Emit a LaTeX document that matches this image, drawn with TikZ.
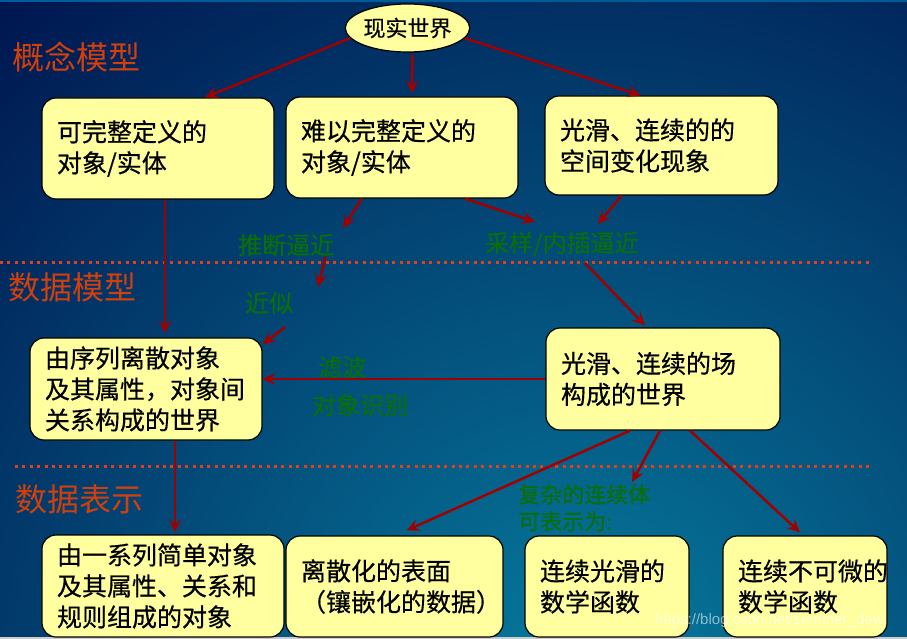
\documentclass[tikz,border=0pt]{standalone}
\usepackage{fontspec}
\newfontfamily\cjk{Noto Sans CJK SC}
\newfontfamily\cjkb[FakeBold=0.5]{Noto Sans CJK SC}
\newfontfamily\wmfont{Liberation Sans}
\usetikzlibrary{arrows.meta,shapes.geometric}
\definecolor{navy}{HTML}{001650}
\definecolor{tealbg}{HTML}{067C9E}
\definecolor{boxfill}{HTML}{FFFFA0}
\definecolor{arrowred}{HTML}{A00000}
\definecolor{secred}{HTML}{D0400C}
\definecolor{lblgreen}{HTML}{0A6E0A}
\definecolor{dotred}{HTML}{E0401A}
\begin{document}
\begin{tikzpicture}[x=1pt,y=-1pt,
  box/.style={draw=black, line width=1.2pt, fill=boxfill, rounded corners=14pt,
    align=left, inner xsep=15pt, inner ysep=0pt,
    font=\cjkb\fontsize{25}{31}\selectfont, anchor=center},
  sec/.style={text=secred, font=\cjk\fontsize{32}{36}\selectfont, inner sep=0pt, anchor=west},
  glbl/.style={text=lblgreen, font=\cjkb\fontsize{24}{28}\selectfont, inner sep=0pt, anchor=west},
  conn/.style={draw=arrowred, line width=2.5pt, -{Stealth[length=13pt,width=12pt,inset=5pt]}},
  dotline/.style={draw=dotred, line width=3pt, dash pattern=on 3pt off 4.4pt}
]
\useasboundingbox (0,0) rectangle (907,639);
% background
\begin{scope}
  \clip (0,0) rectangle (907,639);
  \fill[navy] (0,0) rectangle (907,639);
  \shade[inner color=tealbg, outer color=navy] (590,680) circle (900);
  \fill[color=blue!40!cyan!60!black] (0,0) rectangle (907,2.5);
  \fill[gray!40] (0,636.5) rectangle (907,639);
\end{scope}

% dotted separators
\draw[dotline] (0,262) -- (870,262);
\draw[dotline] (15,466) -- (870,466);

% section labels
\node[sec] (s1) at (12,57) {概念模型};
\node[sec] (s2) at (8,287) {数据模型};
\node[sec] (s3) at (15,499) {数据表示};

% nodes
\node[draw=black, line width=1.2pt, fill=boxfill, ellipse, minimum width=119pt, minimum height=48pt,
  inner sep=0pt, font=\cjkb\fontsize{22}{26}\selectfont] (world) at (407.5,28) {现实世界};

\node[box, text width=202pt, minimum height=101pt] (A) at (158,148.5) {可完整定义的\\对象/实体};
\node[box, text width=202pt, minimum height=101pt] (B) at (402,147.5) {难以完整定义的\\对象/实体};
\node[box, text width=203pt, minimum height=99pt] (C) at (661.5,145.5) {光滑、连续的的\\空间变化现象};
\node[box, text width=202pt, minimum height=102pt] (D) at (146,389) {由序列离散对象\\及其属性，对象间\\关系构成的世界};
\node[box, text width=204pt, minimum height=102pt] (E) at (663,379) {光滑、连续的场\\构成的世界};
\node[box, text width=212pt, minimum height=102pt] (F) at (163,586) {由一系列简单对象\\及其属性、关系和\\规则组成的对象};
\node[box, text width=187pt, minimum height=101pt] (G) at (394.5,586.5) {离散化的表面\\（镶嵌化的数据）};
\node[box, text width=134pt, minimum height=101pt] (H) at (607,586.5) {连续光滑的\\数学函数};
\node[box, text width=134pt, minimum height=101pt] (I) at (805,586.5) {连续不可微的\\数学函数};

% green labels
\node[glbl] (lbl1) at (238,245) {推断逼近};
\node[glbl] (lbl2) at (485,244) {采样/内插逼近};
\node[glbl] (lbl3) at (245,303) {近似};
\node[glbl] (lbl4) at (318,367) {滤波};
\node[glbl] (lbl5) at (312,405) {对象识别};
\node[glbl, font=\cjkb\fontsize{22}{27}\selectfont, align=left, anchor=north west] (lbl6) at (518,484) {复杂的连续体\\可表示为:};

% free ends
\coordinate (p5) at (343,228);
\coordinate (p6b) at (318,287);
\coordinate (p7) at (285,327);
\coordinate (p8) at (535,222);
\coordinate (p9) at (598,224);
\coordinate (p10) at (585,263);
\coordinate (p14) at (632,482);

% connectors
\draw[conn] (world.190) -- ([xshift=47pt]A.north);
\draw[conn] ([xshift=5pt,yshift=-2pt]world.south) -- ([xshift=10pt,yshift=3pt]B.north);
\draw[conn] (world.350) -- ([xshift=-21pt]C.north);
\draw[conn] ([xshift=7pt]A.south) -- ([xshift=19pt,yshift=4pt]D.north);
\draw[conn] ([xshift=-40pt]B.south) -- (p5);
\draw[conn] ([xshift=-9pt]lbl1.south east) -- (p6b);
\draw[conn] (p7) -- ([yshift=-7pt]D.north east);
\draw[conn] ([xshift=63pt]B.south) -- (p8);
\draw[conn] ([xshift=-40pt]C.south) -- (p9);
\draw[conn] (p10) -- ([xshift=-18pt,yshift=2pt]E.north);
\draw[conn] (E.west) -- ([yshift=10pt]D.east);
\draw[conn] ([xshift=29pt]D.south) -- ([xshift=12pt,yshift=2pt]F.north);
\draw[conn] ([xshift=-33pt]E.south) -- ([xshift=12pt,yshift=5pt]G.north);
\draw[conn] ([xshift=-3pt]E.south) -- (p14);
\draw[conn] ([xshift=27pt]E.south) -- ([xshift=-5pt,yshift=3pt]I.north);

% watermark
\node[anchor=west, inner sep=0pt, text=white, opacity=0.55, font=\wmfont\fontsize{15}{18}\selectfont] (wm) at (655,621) {https://blog.csdn.net/summer\_dew};
\end{tikzpicture}
\end{document}
